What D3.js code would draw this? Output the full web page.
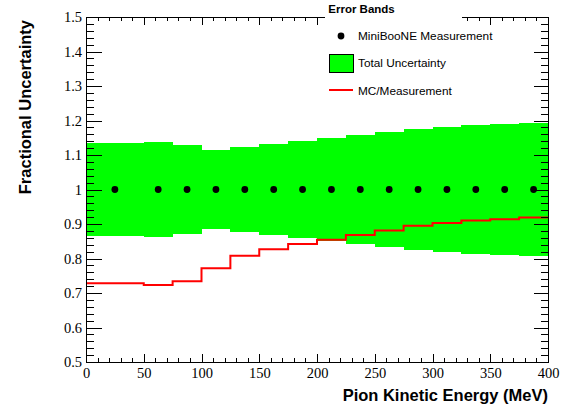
<!DOCTYPE html>
<html>
<head>
<meta charset="utf-8">
<script src="https://cdn.jsdelivr.net/npm/d3@7"></script>
<style>
  body { margin: 0; background: #fff; }
  .tick text { font-family: "Liberation Serif", "Times New Roman", serif; font-size: 14.5px; fill: #000; }
  .axis path, .axis line { stroke: #000; shape-rendering: crispEdges; }
</style>
</head>
<body>
<div id="chart"></div>
<script>
// bin edges (MeV)
var binEdges = [0, 50, 75, 100, 125, 150, 175, 200, 225, 250, 275, 300, 325, 350, 375, 400];
// measurement (normalised to 1)
var measurement = [1, 1, 1, 1, 1, 1, 1, 1, 1, 1, 1, 1, 1, 1, 1];
// total fractional uncertainty (half width of band)
var totalUnc = [0.135, 0.139, 0.129, 0.115, 0.123, 0.133, 0.142, 0.149, 0.158, 0.167, 0.174, 0.181, 0.187, 0.190, 0.194];
// MC / measurement ratio
var mcRatio = [0.728, 0.723, 0.734, 0.772, 0.808, 0.827, 0.842, 0.854, 0.868, 0.881, 0.895, 0.903, 0.910, 0.914, 0.919];

var xTicks = [0, 50, 100, 150, 200, 250, 300, 350, 400];
var yTicks = [0.5, 0.6, 0.7, 0.8, 0.9, 1.0, 1.1, 1.2, 1.3, 1.4, 1.5];

var width = 577, height = 413;
var padL = 86, padR = 548, padT = 17, padB = 362;

var svg = d3.select("#chart").append("svg").attr("width", width).attr("height", height);

var x = d3.scaleLinear().domain([0, 400]).range([padL, padR]);
var y = d3.scaleLinear().domain([0.5, 1.5]).range([padB, padT]);

var bins = measurement.map(function(m, i) {
  return { x0: binEdges[i], x1: binEdges[i + 1], m: m, e: totalUnc[i], r: mcRatio[i] };
});

// green error band
svg.append("g").selectAll("rect").data(bins).enter().append("rect")
  .attr("x", function(d) { return x(d.x0); })
  .attr("width", function(d) { return x(d.x1) - x(d.x0) + 0.5; })
  .attr("y", function(d) { return y(d.m + d.e); })
  .attr("height", function(d) { return y(d.m - d.e) - y(d.m + d.e); })
  .attr("fill", "#00ff00")
  .attr("shape-rendering", "crispEdges");

// MC/measurement step line
var stepPts = [];
bins.forEach(function(d) { stepPts.push([d.x0, d.r]); stepPts.push([d.x1, d.r]); });
svg.append("path")
  .datum(stepPts)
  .attr("fill", "none")
  .attr("stroke", "#ff0000")
  .attr("stroke-width", 2)
  .attr("d", d3.line().x(function(d) { return x(d[0]); }).y(function(d) { return y(d[1]); }));

// measurement points
svg.append("g").selectAll("circle").data(bins).enter().append("circle")
  .attr("cx", function(d) { return x((d.x0 + d.x1) / 2); })
  .attr("cy", function(d) { return y(d.m); })
  .attr("r", 3.4)
  .attr("fill", "#000");

function minors(lo, hi, step, majors) {
  return d3.range(lo, hi + step / 2, step).filter(function(v) {
    return !majors.some(function(m) { return Math.abs(m - v) < 1e-6; });
  });
}
var xMinor = minors(0, 400, 10, xTicks);
var yMinor = minors(0.5, 1.5, 0.02, yTicks);
var fmtY = function(d) { return String(+d.toFixed(1)); };

// bottom axis
var gx = svg.append("g").attr("class", "axis").attr("transform", "translate(0," + padB + ")")
  .call(d3.axisBottom(x).tickValues(xTicks).tickSize(-8).tickSizeOuter(0).tickPadding(4));
gx.append("g").call(d3.axisBottom(x).tickValues(xMinor).tickSize(-4).tickFormat("")).select(".domain").remove();
gx.selectAll(".tick text").attr("dy", "0.85em");

// top axis
var gt = svg.append("g").attr("class", "axis").attr("transform", "translate(0," + padT + ")")
  .call(d3.axisTop(x).tickValues(xTicks).tickSize(-8).tickSizeOuter(0).tickFormat(""));
gt.append("g").call(d3.axisTop(x).tickValues(xMinor).tickSize(-4).tickFormat("")).select(".domain").remove();

// left axis
var gy = svg.append("g").attr("class", "axis").attr("transform", "translate(" + padL + ",0)")
  .call(d3.axisLeft(y).tickValues(yTicks).tickSize(-16).tickSizeOuter(0).tickPadding(4).tickFormat(fmtY));
gy.append("g").call(d3.axisLeft(y).tickValues(yMinor).tickSize(-8).tickFormat("")).select(".domain").remove();

// right axis
var gr = svg.append("g").attr("class", "axis").attr("transform", "translate(" + padR + ",0)")
  .call(d3.axisRight(y).tickValues(yTicks).tickSize(-14).tickSizeOuter(0).tickFormat(""));
gr.append("g").call(d3.axisRight(y).tickValues(yMinor).tickSize(-7).tickFormat("")).select(".domain").remove();

svg.selectAll(".axis .tick line").attr("stroke", "#000");

// axis titles
svg.append("text")
  .attr("x", padR).attr("y", 401)
  .attr("text-anchor", "end")
  .style("font-family", "'Liberation Sans', Arial, sans-serif")
  .style("font-weight", "bold").style("font-size", "16.5px")
  .text("Pion Kinetic Energy (MeV)");

svg.append("text")
  .attr("transform", "translate(31," + (padT + 3) + ") rotate(-90)")
  .attr("text-anchor", "end")
  .style("font-family", "'Liberation Sans', Arial, sans-serif")
  .style("font-weight", "bold").style("font-size", "16.5px")
  .text("Fractional Uncertainty");

// title box
svg.append("rect").attr("x", 325).attr("y", 0).attr("width", 137).attr("height", 26).attr("fill", "#fff");
svg.append("text")
  .attr("x", 361.5).attr("y", 12.5)
  .attr("text-anchor", "middle")
  .style("font-family", "'Liberation Sans', Arial, sans-serif")
  .style("font-weight", "bold").style("font-size", "11.5px")
  .text("Error Bands");

// legend
var lg = svg.append("g").attr("transform", "translate(329,0)")
  .style("font-family", "'Liberation Sans', Arial, sans-serif").style("font-size", "11.8px");
lg.append("circle").attr("cx", 12).attr("cy", 36).attr("r", 3.4).attr("fill", "#000");
lg.append("text").attr("x", 29).attr("y", 36).attr("dy", "0.35em").text("MiniBooNE Measurement");
lg.append("rect").attr("x", 0.5).attr("y", 54.5).attr("width", 24).attr("height", 18)
  .attr("fill", "#00ff00").attr("stroke", "#000").attr("stroke-width", 1);
lg.append("text").attr("x", 29).attr("y", 63).attr("dy", "0.35em").text("Total Uncertainty");
lg.append("line").attr("x1", 0).attr("x2", 24).attr("y1", 90).attr("y2", 90)
  .attr("stroke", "#ff0000").attr("stroke-width", 2);
lg.append("text").attr("x", 29).attr("y", 91).attr("dy", "0.35em").text("MC/Measurement");
</script>
</body>
</html>
